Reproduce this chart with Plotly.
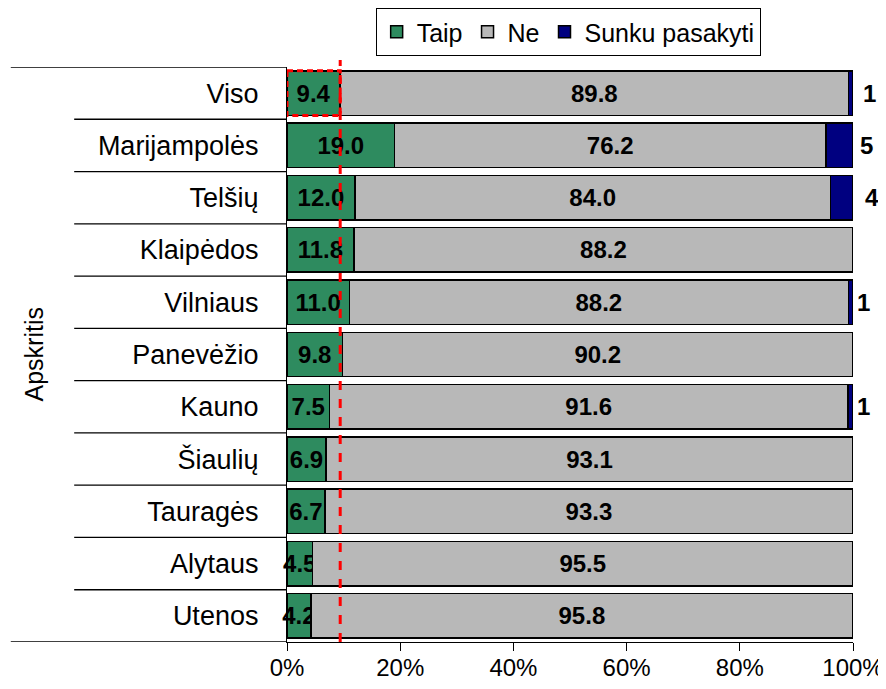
import plotly.graph_objects as go

categories = ["Viso", "Marijampolės", "Telšių", "Klaipėdos", "Vilniaus", "Panevėžio",
              "Kauno", "Šiaulių", "Tauragės", "Alytaus", "Utenos"]
taip = [9.4, 19.0, 12.0, 11.8, 11.0, 9.8, 7.5, 6.9, 6.7, 4.5, 4.2]
ne = [89.8, 76.2, 84.0, 88.2, 88.2, 90.2, 91.6, 93.1, 93.3, 95.5, 95.8]
sunku = [0.8, 4.8, 4.0, 0.0, 0.8, 0.0, 0.9, 0.0, 0.0, 0.0, 0.0]
sunku_labels = ["1", "5", "4", "", "1", "", "1", "", "", "", ""]
sunku_shift = [8, 5, 10, 0, 2, 0, 2, 0, 0, 0, 0]
x_ticks = [0, 20, 40, 60, 80, 100]
reference_value = taip[0]

FONT = "Liberation Sans, Arial, sans-serif"
line = dict(color="black", width=1.5)
bar_font = dict(family=FONT, size=24, color="black", weight="bold")

fig = go.Figure()
fig.add_trace(go.Bar(
    y=categories, x=taip, name="Taip", orientation="h",
    marker=dict(color="#2e8b5f", line=line),
    text=[f"{v:.1f}" for v in taip], textposition="inside", textangle=0,
    insidetextanchor="middle", constraintext="none", cliponaxis=False,
    textfont=bar_font, width=0.85,
))
fig.add_trace(go.Bar(
    y=categories, x=ne, name="Ne", orientation="h",
    marker=dict(color="#b8b8b8", line=line),
    text=[f"{v:.1f}" for v in ne], textposition="inside", textangle=0,
    insidetextanchor="middle", constraintext="none",
    textfont=bar_font, width=0.85,
))
fig.add_trace(go.Bar(
    y=categories, x=sunku, name="Sunku pasakyti", orientation="h",
    marker=dict(color="#000080", line=line),
    width=0.85, textposition="none",
))

for cat, lab, sh in zip(categories, sunku_labels, sunku_shift):
    if lab:
        fig.add_annotation(x=100, y=cat, xref="x", yref="y", text=f"<b>{lab}</b>",
                           showarrow=False, xanchor="left", xshift=sh,
                           font=dict(family=FONT, size=24, color="black"))

# y-axis title
fig.add_annotation(x=-0.447, y=0.5, xref="paper", yref="paper", text="Apskritis",
                   textangle=-90, showarrow=False, xanchor="center", yanchor="middle",
                   font=dict(family=FONT, size=25, color="black"))

n = len(categories)
# table-like separators in the label area
for i in range(n + 1):
    x0 = -0.488 if i in (0, n) else -0.376
    fig.add_shape(type="line", xref="paper", yref="y", x0=x0, x1=0,
                  y0=i - 0.5, y1=i - 0.5, line=dict(color="black", width=1.3))

# red dashed reference line and box
fig.add_shape(type="line", xref="x", yref="paper", x0=reference_value, x1=reference_value,
              y0=0, y1=1.012, line=dict(color="#ff0000", width=3, dash="dash"),
              layer="above")
fig.add_shape(type="rect", xref="x", yref="y", x0=0, x1=reference_value,
              y0=-0.43, y1=0.43, line=dict(color="#ff0000", width=3, dash="6px,4px"),
              layer="above")

fig.update_layout(
    barmode="stack",
    width=878, height=681,
    margin=dict(l=279, r=33, t=59, b=47, autoexpand=False),
    paper_bgcolor="white", plot_bgcolor="white",
    font=dict(family=FONT, size=20, color="black"),
    showlegend=True,
    legend=dict(orientation="h", xref="container", yref="container",
                x=0.638, xanchor="center", y=1.0, yanchor="top",
                bordercolor="black", borderwidth=1, bgcolor="white",
                font=dict(family=FONT, size=25), itemwidth=30,
                traceorder="normal"),
    xaxis=dict(range=[0, 100], tickvals=x_ticks, ticktext=[f"{t}%" for t in x_ticks],
               showgrid=False, zeroline=False, showline=True, linecolor="black", linewidth=1.3,
               ticks="outside", ticklen=8, tickcolor="black", automargin=False,
               ticklabelstandoff=-4,
               tickfont=dict(family=FONT, size=24), fixedrange=True),
    yaxis=dict(categoryorder="array", categoryarray=categories, range=[n - 0.5, -0.5],
               showgrid=False, zeroline=False, showline=True, linecolor="black", linewidth=1.3,
               ticks="", ticklabelstandoff=22, automargin=False,
               tickfont=dict(family=FONT, size=27)),
)

fig.write_html("out.html")
